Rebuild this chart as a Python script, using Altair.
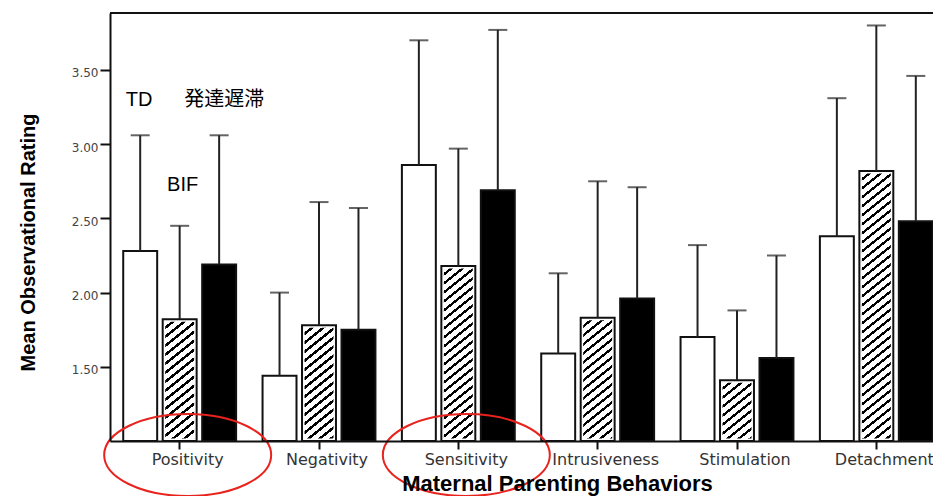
import math
import altair as alt
import pandas as pd

# ---- data -------------------------------------------------------------
categories = ["Positivity", "Negativity", "Sensitivity",
              "Intrusiveness", "Stimulation", "Detachment"]
groups = ["TD", "BIF", "発達遅滞"]

td_mean = [2.28, 1.44, 2.86, 1.59, 1.70, 2.38]
td_upper = [3.06, 2.00, 3.70, 2.13, 2.32, 3.31]
bif_mean = [1.82, 1.78, 2.18, 1.83, 1.41, 2.82]
bif_upper = [2.45, 2.61, 2.97, 2.75, 1.88, 3.80]
dd_mean = [2.19, 1.75, 2.69, 1.96, 1.56, 2.48]
dd_upper = [3.06, 2.57, 3.77, 2.71, 2.25, 3.46]

y_ticks = [1.5, 2.0, 2.5, 3.0, 3.5]
circled = ["Positivity", "Sensitivity"]

# ---- layout -----------------------------------------------------------
Y_MIN, Y_MAX = 1.0, 3.884
PLOT_W, PLOT_H = 823, 428          # visible plot area
X_RANGE = 836                      # band range runs past the right edge
OFF_PAD_IN, OFF_PAD_OUT = 0.14, 0.335

rows = []
for i, cat in enumerate(categories):
    for grp, means, ups in zip(groups, [td_mean, bif_mean, dd_mean],
                               [td_upper, bif_upper, dd_upper]):
        rows.append({"cat": cat, "grp": grp, "mean": means[i],
                     "upper": ups[i], "base": Y_MIN})
df = pd.DataFrame(rows)

px_per_unit = PLOT_H / (Y_MAX - Y_MIN)
band = X_RANGE / len(categories)
off_step = band / (len(groups) - OFF_PAD_IN + 2 * OFF_PAD_OUT)
bar_w = off_step * (1 - OFF_PAD_IN)


def hatch(w, h, slope=0.8, period=9.0, frac=0.34):
    """Diagonal '/' stripes as a hard-stop linear gradient for a w x h bar."""
    p, q = slope, 1.0
    L = p * w + q * h
    s = (p * p * w * w + q * q * h * h) / L
    dt = q * period / L
    n = int(math.ceil(1 / dt))
    stops = []
    for k in range(n):
        o0 = min(k * dt, 1.0)
        o1 = min(o0 + frac * dt, 1.0)
        o2 = min((k + 1) * dt, 1.0)
        stops += [{"offset": o0, "color": "#000000"},
                  {"offset": o1, "color": "#000000"},
                  {"offset": o1, "color": "#ffffff"},
                  {"offset": o2, "color": "#ffffff"}]
    return {"gradient": "linear", "x1": 0, "y1": 0,
            "x2": p * w / s, "y2": q * h / s, "stops": stops}


x_axis = alt.Axis(
    title="Maternal Parenting Behaviors", labelAngle=0,
    labelFont="DejaVu Sans", labelFontSize=16, labelColor="#333333",
    labelPadding=2, labelOffset=8, tickSize=8, tickWidth=2,
    tickColor="#111111", domainColor="#111111", domainWidth=2, grid=False,
    titleFont="Liberation Sans", titleFontSize=22, titleFontWeight="bold",
    titleColor="#000000", titleX=447, titleY=42, titleBaseline="middle",
    titleAlign="center", zindex=1,
)
y_axis = alt.Axis(
    title="Mean Observational Rating", values=y_ticks, format=".2f",
    labelFont="DejaVu Sans", labelFontSize=12, labelColor="#444444",
    labelPadding=2, labelOffset=3, tickSize=10, tickWidth=2,
    tickColor="#111111", domainColor="#111111", domainWidth=2, grid=False,
    titleFont="Liberation Sans", titleFontSize=20, titleFontWeight="bold",
    titleColor="#000000", titleX=-82, titleY=229, titleAngle=-90,
    titleBaseline="middle", titleAlign="center", zindex=1,
)

x_enc = alt.X("cat:N", sort=categories, axis=x_axis,
              scale=alt.Scale(range=[0, X_RANGE], paddingInner=0,
                              paddingOuter=0))
off_enc = alt.XOffset("grp:N", sort=groups,
                      scale=alt.Scale(paddingInner=OFF_PAD_IN,
                                      paddingOuter=OFF_PAD_OUT))
y_scale = alt.Scale(domain=[Y_MIN, Y_MAX], nice=False, zero=False)
y_enc = alt.Y("mean:Q", scale=y_scale, axis=y_axis)
y_up = alt.Y("upper:Q", scale=y_scale, axis=y_axis)

base = alt.Chart(df)

# white (TD) and black (発達遅滞) bars
solid_bars = base.transform_filter(alt.datum.grp != "BIF").mark_bar(
    stroke="#111111", strokeWidth=2
).encode(
    x=x_enc, xOffset=off_enc, y=y_enc, y2="base:Q",
    fill=alt.Fill("grp:N", scale=alt.Scale(domain=["TD", "発達遅滞"],
                                           range=["#ffffff", "#000000"]),
                  legend=None),
)

# hatched BIF bars, one gradient per bar so the stripe angle stays fixed
hatched = []
for i, cat in enumerate(categories):
    h = (bif_mean[i] - Y_MIN) * px_per_unit
    hatched.append(
        base.transform_filter(
            (alt.datum.grp == "BIF") & (alt.datum.cat == cat)
        ).mark_bar(fill=hatch(bar_w, h), stroke="#ffffff", strokeWidth=5)
        .encode(x=x_enc, xOffset=off_enc, y=y_enc, y2="base:Q")
    )

bif_outline = base.transform_filter(alt.datum.grp == "BIF").mark_bar(
    fillOpacity=0, stroke="#111111", strokeWidth=2
).encode(x=x_enc, xOffset=off_enc, y=y_enc, y2="base:Q")

err = base.mark_rule(color="#222222", strokeWidth=2).encode(
    x=x_enc, xOffset=off_enc, y=y_enc, y2="upper:Q")
caps = base.mark_tick(color="#222222", thickness=2, size=19).encode(
    x=x_enc, xOffset=off_enc, y=y_up)

# frame line along the top of the plot
top_line = alt.Chart(pd.DataFrame({"k": [0]})).mark_rule(
    color="#111111", strokeWidth=2
).encode(x=alt.value(0), x2=alt.value(X_RANGE), y=alt.value(0))

# group labels placed over the Positivity bars
lab_df = pd.DataFrame({"cat": ["Positivity"] * 3, "grp": groups})
lab_top = alt.Chart(lab_df).transform_filter(alt.datum.grp == "TD").mark_text(
    font="Liberation Sans", fontSize=20, color="#000000", dx=-1
).encode(x=x_enc, xOffset=off_enc, y=alt.value(87), text="grp:N")
lab_dd = alt.Chart(lab_df).transform_filter(alt.datum.grp == "発達遅滞").mark_text(
    font="Noto Sans CJK JP", fontSize=20, color="#000000", dx=5
).encode(x=x_enc, xOffset=off_enc, y=alt.value(87), text="grp:N")
lab_bif = alt.Chart(lab_df).transform_filter(alt.datum.grp == "BIF").mark_text(
    font="Liberation Sans", fontSize=20, color="#000000", dx=3
).encode(x=x_enc, xOffset=off_enc, y=alt.value(172), text="grp:N")

# red ellipses around the highlighted category labels
ellipse_path = "M-1,0A1,0.491,0,1,0,1,0A1,0.491,0,1,0,-1,0Z"
ellipses = alt.Chart(pd.DataFrame({"cat": circled})).mark_point(
    shape=ellipse_path, size=167 ** 2, filled=False, stroke="#e8231d",
    strokeWidth=2, opacity=1
).encode(x=x_enc, xOffset=alt.value(band / 2 + 8), y=alt.value(442))

chart = alt.layer(
    solid_bars, *hatched, bif_outline, err, caps, top_line,
    lab_top, lab_dd, lab_bif, ellipses
).properties(
    width=PLOT_W, height=PLOT_H,
    autosize=alt.AutoSizeParams(type="none"),
    padding={"left": 110, "top": 13, "right": 0, "bottom": 55},
).configure_view(stroke=None).configure(background="#ffffff")

chart.save("out.html", embed_options={"renderer": "svg", "actions": False})
